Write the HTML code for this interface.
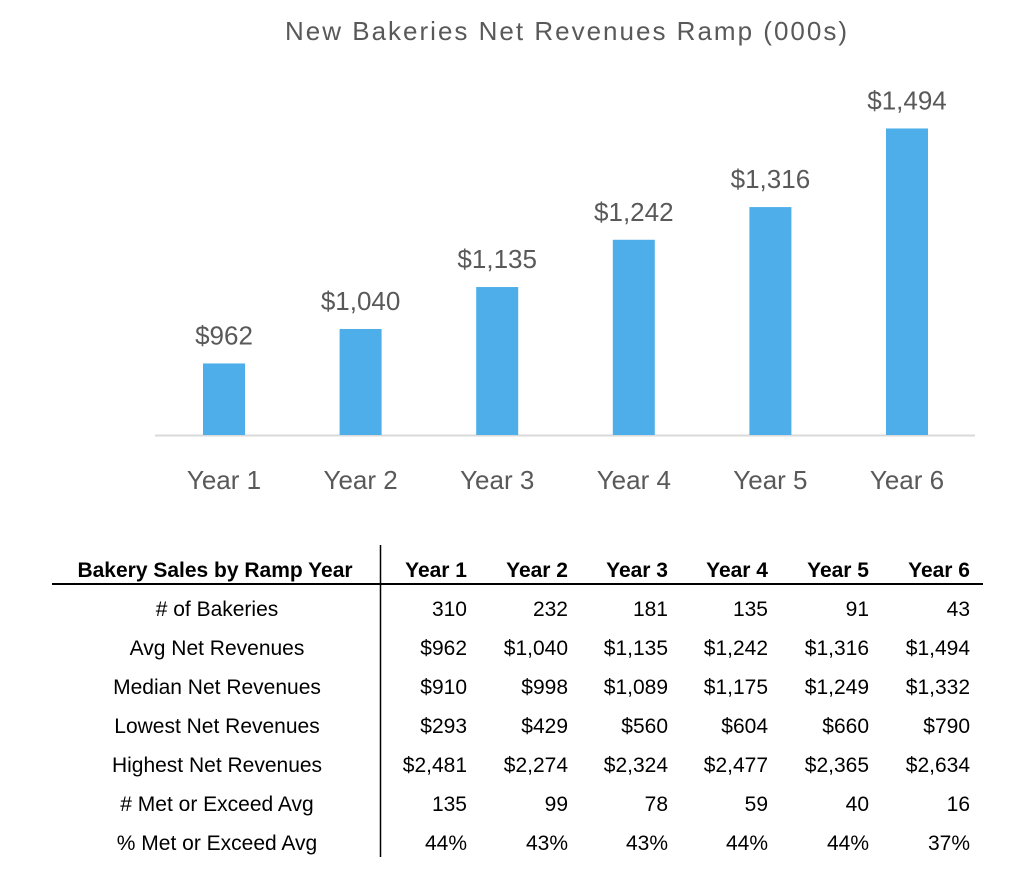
<!DOCTYPE html>
<html><head><meta charset="utf-8"><style>
html,body{margin:0;padding:0;background:#fff;}
svg{display:block;font-family:"Liberation Sans",sans-serif;}
</style></head><body>
<svg id="chart" width="1024" height="880" viewBox="0 0 1024 880">
<text x="566" y="40" text-anchor="middle" font-size="26" fill="#595959" textLength="562">New Bakeries Net Revenues Ramp (000s)</text>
<line x1="155" y1="435.5" x2="975" y2="435.5" stroke="#d9d9d9" stroke-width="2"/>
<g id="bars"></g>
<line x1="52" y1="584" x2="983" y2="584" stroke="#000" stroke-width="2"/>
<line x1="380.5" y1="545" x2="380.5" y2="857" stroke="#000" stroke-width="1.5"/>
<g id="table"></g>
</svg>
<script>
const categories = ["Year 1","Year 2","Year 3","Year 4","Year 5","Year 6"];
const revenues = [962,1040,1135,1242,1316,1494];
const rowLabels = ["# of Bakeries","Avg Net Revenues","Median Net Revenues","Lowest Net Revenues","Highest Net Revenues","# Met or Exceed Avg","% Met or Exceed Avg"];
const rowBakeries = ["310","232","181","135","91","43"];
const rowAvg = ["$962","$1,040","$1,135","$1,242","$1,316","$1,494"];
const rowMedian = ["$910","$998","$1,089","$1,175","$1,249","$1,332"];
const rowLow = ["$293","$429","$560","$604","$660","$790"];
const rowHigh = ["$2,481","$2,274","$2,324","$2,477","$2,365","$2,634"];
const rowMet = ["135","99","78","59","40","16"];
const rowPct = ["44%","43%","43%","44%","44%","37%"];
const NS="http://www.w3.org/2000/svg";
const yMin=800, base=435, pxPer=0.4417;
function yScale(v){return base-(v-yMin)*pxPer;}
function xCenter(i){return 224+i*136.6;}
function fmt(v){return "$"+v.toLocaleString("en-US");}
function mk(tag,attrs,parent,txt){const e=document.createElementNS(NS,tag);for(const k in attrs)e.setAttribute(k,attrs[k]);if(txt!==undefined)e.textContent=txt;parent.appendChild(e);return e;}
const gb=document.getElementById("bars");
revenues.forEach((v,i)=>{
  const cx=xCenter(i), y=yScale(v);
  const r=mk("rect",{x:cx-21,y:y,width:42,height:base-y,fill:"#4daeea"},gb);
  
  
  const t=mk("text",{x:cx,y:y-19,"text-anchor":"middle","font-size":"26",fill:"#595959"},gb,fmt(v));
  
  
  const c=mk("text",{x:cx,y:489,"text-anchor":"middle","font-size":"26",fill:"#595959"},gb,categories[i]);
  
  
});
const gt=document.getElementById("table");
const colRight=[467,568,668,768,869,970];
const hdr=mk("text",{x:215,y:577,"text-anchor":"middle","font-size":"21","font-weight":"bold"},gt,"Bakery Sales by Ramp Year");


categories.forEach((c,i)=>{
  const h=mk("text",{x:colRight[i],y:577,"text-anchor":"end","font-size":"21","font-weight":"bold"},gt,c);
  
  
});
const rows=[rowBakeries,rowAvg,rowMedian,rowLow,rowHigh,rowMet,rowPct];
rows.forEach((row,r)=>{
  const y=616+r*39;
  const l=mk("text",{x:217,y:y,"text-anchor":"middle","font-size":"21"},gt,rowLabels[r]);
  
  
  row.forEach((v,i)=>{
    const t=mk("text",{x:colRight[i],y:y,"text-anchor":"end","font-size":"21"},gt,v);
    
    
  });
});
</script>
</body></html>
